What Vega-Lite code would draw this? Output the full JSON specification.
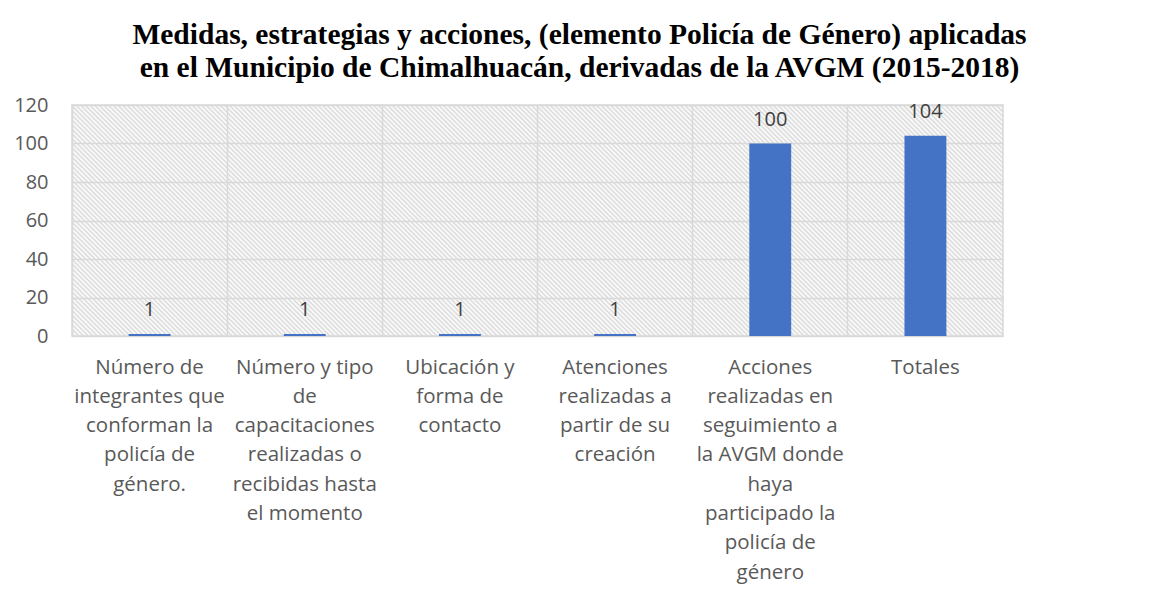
{
  "$schema": "https://vega.github.io/schema/vega-lite/v6.json",
  "autosize": {"type": "none"},
  "padding": {"left": 72, "top": 105, "right": 155, "bottom": 271},
  "width": 931,
  "height": 231,
  "background": "white",
  "title": {
    "text": ["Medidas, estrategias y acciones, (elemento Policía de Género) aplicadas", "en el Municipio de Chimalhuacán, derivadas de la AVGM (2015-2018)"],
    "font": "Liberation Serif",
    "fontSize": 29.5,
    "fontWeight": "bold",
    "color": "#000000",
    "anchor": "middle",
    "frame": "group",
    "dx": 42,
    "offset": 12,
    "lineHeight": 33
  },
  "data": {
    "values": [
      {"categoria": "Número de|integrantes que|conforman la|policía de|género.", "valor": 1},
      {"categoria": "Número y tipo|de|capacitaciones|realizadas o|recibidas hasta|el momento", "valor": 1},
      {"categoria": "Ubicación y|forma de|contacto", "valor": 1},
      {"categoria": "Atenciones|realizadas a|partir de su|creación", "valor": 1},
      {"categoria": "Acciones|realizadas en|seguimiento a|la AVGM donde|haya|participado la|policía de|género", "valor": 100},
      {"categoria": "Totales", "valor": 104}
    ]
  },
  "encoding": {
    "x": {
      "field": "categoria",
      "type": "nominal",
      "sort": null,
      "scale": {"paddingInner": 0, "paddingOuter": 0},
      "axis": {
        "title": null,
        "labelExpr": "split(datum.label, '|')",
        "labelAngle": 0,
        "labelLimit": 0,
        "labelFont": "Open Sans",
        "labelFontSize": 20.5,
        "labelColor": "#595959",
        "labelLineHeight": 29.3,
        "labelBaseline": "top",
        "labelPadding": 21,
        "ticks": false,
        "domain": false,
        "grid": true,
        "bandPosition": 0,
        "gridColor": "#d9d9d9",
        "gridWidth": 1.5
      }
    },
    "y": {
      "field": "valor",
      "type": "quantitative",
      "scale": {"domain": [0, 120], "nice": false},
      "axis": {
        "title": null,
        "values": [0, 20, 40, 60, 80, 100, 120],
        "labelFont": "Open Sans",
        "labelFontSize": 20,
        "labelColor": "#595959",
        "labelPadding": 24,
        "ticks": false,
        "domain": false,
        "gridColor": "#d9d9d9",
        "gridWidth": 1.5
      }
    }
  },
  "layer": [
    {
      "mark": {"type": "bar", "color": "#4472C4", "width": {"band": 0.27}}
    },
    {
      "mark": {"type": "text", "baseline": "alphabetic", "dy": -18, "font": "Open Sans", "fontSize": 20, "color": "#404040"},
      "encoding": {"text": {"field": "valor", "type": "quantitative"}}
    }
  ],
  "config": {
    "view": {
      "stroke": "#d9d9d9",
      "strokeWidth": 1.5,
      "fill": {
        "gradient": "linear",
        "x1": 0, "y1": 1, "x2": 1.1757, "y2": 0.7083,
        "stops": [
{"offset":0.000,"color":"#fff"},{"offset":0.002,"color":"#d9d9d9"},{"offset":0.004,"color":"#fff"},{"offset":0.006,"color":"#d9d9d9"},{"offset":0.008,"color":"#fff"},{"offset":0.010,"color":"#d9d9d9"},{"offset":0.012,"color":"#fff"},{"offset":0.014,"color":"#d9d9d9"},{"offset":0.016,"color":"#fff"},{"offset":0.018,"color":"#d9d9d9"},
{"offset":0.020,"color":"#fff"},{"offset":0.022,"color":"#d9d9d9"},{"offset":0.024,"color":"#fff"},{"offset":0.026,"color":"#d9d9d9"},{"offset":0.028,"color":"#fff"},{"offset":0.030,"color":"#d9d9d9"},{"offset":0.032,"color":"#fff"},{"offset":0.034,"color":"#d9d9d9"},{"offset":0.036,"color":"#fff"},{"offset":0.038,"color":"#d9d9d9"},
{"offset":0.040,"color":"#fff"},{"offset":0.042,"color":"#d9d9d9"},{"offset":0.044,"color":"#fff"},{"offset":0.046,"color":"#d9d9d9"},{"offset":0.048,"color":"#fff"},{"offset":0.050,"color":"#d9d9d9"},{"offset":0.052,"color":"#fff"},{"offset":0.054,"color":"#d9d9d9"},{"offset":0.056,"color":"#fff"},{"offset":0.058,"color":"#d9d9d9"},
{"offset":0.060,"color":"#fff"},{"offset":0.062,"color":"#d9d9d9"},{"offset":0.064,"color":"#fff"},{"offset":0.066,"color":"#d9d9d9"},{"offset":0.068,"color":"#fff"},{"offset":0.070,"color":"#d9d9d9"},{"offset":0.072,"color":"#fff"},{"offset":0.074,"color":"#d9d9d9"},{"offset":0.076,"color":"#fff"},{"offset":0.078,"color":"#d9d9d9"},
{"offset":0.080,"color":"#fff"},{"offset":0.082,"color":"#d9d9d9"},{"offset":0.084,"color":"#fff"},{"offset":0.086,"color":"#d9d9d9"},{"offset":0.088,"color":"#fff"},{"offset":0.090,"color":"#d9d9d9"},{"offset":0.092,"color":"#fff"},{"offset":0.094,"color":"#d9d9d9"},{"offset":0.096,"color":"#fff"},{"offset":0.098,"color":"#d9d9d9"},
{"offset":0.100,"color":"#fff"},{"offset":0.102,"color":"#d9d9d9"},{"offset":0.104,"color":"#fff"},{"offset":0.106,"color":"#d9d9d9"},{"offset":0.108,"color":"#fff"},{"offset":0.110,"color":"#d9d9d9"},{"offset":0.112,"color":"#fff"},{"offset":0.114,"color":"#d9d9d9"},{"offset":0.116,"color":"#fff"},{"offset":0.118,"color":"#d9d9d9"},
{"offset":0.120,"color":"#fff"},{"offset":0.122,"color":"#d9d9d9"},{"offset":0.124,"color":"#fff"},{"offset":0.126,"color":"#d9d9d9"},{"offset":0.128,"color":"#fff"},{"offset":0.130,"color":"#d9d9d9"},{"offset":0.132,"color":"#fff"},{"offset":0.134,"color":"#d9d9d9"},{"offset":0.136,"color":"#fff"},{"offset":0.138,"color":"#d9d9d9"},
{"offset":0.140,"color":"#fff"},{"offset":0.142,"color":"#d9d9d9"},{"offset":0.144,"color":"#fff"},{"offset":0.146,"color":"#d9d9d9"},{"offset":0.148,"color":"#fff"},{"offset":0.150,"color":"#d9d9d9"},{"offset":0.152,"color":"#fff"},{"offset":0.154,"color":"#d9d9d9"},{"offset":0.156,"color":"#fff"},{"offset":0.158,"color":"#d9d9d9"},
{"offset":0.160,"color":"#fff"},{"offset":0.162,"color":"#d9d9d9"},{"offset":0.164,"color":"#fff"},{"offset":0.166,"color":"#d9d9d9"},{"offset":0.168,"color":"#fff"},{"offset":0.170,"color":"#d9d9d9"},{"offset":0.172,"color":"#fff"},{"offset":0.174,"color":"#d9d9d9"},{"offset":0.176,"color":"#fff"},{"offset":0.178,"color":"#d9d9d9"},
{"offset":0.180,"color":"#fff"},{"offset":0.182,"color":"#d9d9d9"},{"offset":0.184,"color":"#fff"},{"offset":0.186,"color":"#d9d9d9"},{"offset":0.188,"color":"#fff"},{"offset":0.190,"color":"#d9d9d9"},{"offset":0.192,"color":"#fff"},{"offset":0.194,"color":"#d9d9d9"},{"offset":0.196,"color":"#fff"},{"offset":0.198,"color":"#d9d9d9"},
{"offset":0.200,"color":"#fff"},{"offset":0.202,"color":"#d9d9d9"},{"offset":0.204,"color":"#fff"},{"offset":0.206,"color":"#d9d9d9"},{"offset":0.208,"color":"#fff"},{"offset":0.210,"color":"#d9d9d9"},{"offset":0.212,"color":"#fff"},{"offset":0.214,"color":"#d9d9d9"},{"offset":0.216,"color":"#fff"},{"offset":0.218,"color":"#d9d9d9"},
{"offset":0.220,"color":"#fff"},{"offset":0.222,"color":"#d9d9d9"},{"offset":0.224,"color":"#fff"},{"offset":0.226,"color":"#d9d9d9"},{"offset":0.228,"color":"#fff"},{"offset":0.230,"color":"#d9d9d9"},{"offset":0.232,"color":"#fff"},{"offset":0.234,"color":"#d9d9d9"},{"offset":0.236,"color":"#fff"},{"offset":0.238,"color":"#d9d9d9"},
{"offset":0.240,"color":"#fff"},{"offset":0.242,"color":"#d9d9d9"},{"offset":0.244,"color":"#fff"},{"offset":0.246,"color":"#d9d9d9"},{"offset":0.248,"color":"#fff"},{"offset":0.250,"color":"#d9d9d9"},{"offset":0.252,"color":"#fff"},{"offset":0.254,"color":"#d9d9d9"},{"offset":0.256,"color":"#fff"},{"offset":0.258,"color":"#d9d9d9"},
{"offset":0.260,"color":"#fff"},{"offset":0.262,"color":"#d9d9d9"},{"offset":0.264,"color":"#fff"},{"offset":0.266,"color":"#d9d9d9"},{"offset":0.268,"color":"#fff"},{"offset":0.270,"color":"#d9d9d9"},{"offset":0.272,"color":"#fff"},{"offset":0.274,"color":"#d9d9d9"},{"offset":0.276,"color":"#fff"},{"offset":0.278,"color":"#d9d9d9"},
{"offset":0.280,"color":"#fff"},{"offset":0.282,"color":"#d9d9d9"},{"offset":0.284,"color":"#fff"},{"offset":0.286,"color":"#d9d9d9"},{"offset":0.288,"color":"#fff"},{"offset":0.290,"color":"#d9d9d9"},{"offset":0.292,"color":"#fff"},{"offset":0.294,"color":"#d9d9d9"},{"offset":0.296,"color":"#fff"},{"offset":0.298,"color":"#d9d9d9"},
{"offset":0.300,"color":"#fff"},{"offset":0.302,"color":"#d9d9d9"},{"offset":0.304,"color":"#fff"},{"offset":0.306,"color":"#d9d9d9"},{"offset":0.308,"color":"#fff"},{"offset":0.310,"color":"#d9d9d9"},{"offset":0.312,"color":"#fff"},{"offset":0.314,"color":"#d9d9d9"},{"offset":0.316,"color":"#fff"},{"offset":0.318,"color":"#d9d9d9"},
{"offset":0.320,"color":"#fff"},{"offset":0.322,"color":"#d9d9d9"},{"offset":0.324,"color":"#fff"},{"offset":0.326,"color":"#d9d9d9"},{"offset":0.328,"color":"#fff"},{"offset":0.330,"color":"#d9d9d9"},{"offset":0.332,"color":"#fff"},{"offset":0.334,"color":"#d9d9d9"},{"offset":0.336,"color":"#fff"},{"offset":0.338,"color":"#d9d9d9"},
{"offset":0.340,"color":"#fff"},{"offset":0.342,"color":"#d9d9d9"},{"offset":0.344,"color":"#fff"},{"offset":0.346,"color":"#d9d9d9"},{"offset":0.348,"color":"#fff"},{"offset":0.350,"color":"#d9d9d9"},{"offset":0.352,"color":"#fff"},{"offset":0.354,"color":"#d9d9d9"},{"offset":0.356,"color":"#fff"},{"offset":0.358,"color":"#d9d9d9"},
{"offset":0.360,"color":"#fff"},{"offset":0.362,"color":"#d9d9d9"},{"offset":0.364,"color":"#fff"},{"offset":0.366,"color":"#d9d9d9"},{"offset":0.368,"color":"#fff"},{"offset":0.370,"color":"#d9d9d9"},{"offset":0.372,"color":"#fff"},{"offset":0.374,"color":"#d9d9d9"},{"offset":0.376,"color":"#fff"},{"offset":0.378,"color":"#d9d9d9"},
{"offset":0.380,"color":"#fff"},{"offset":0.382,"color":"#d9d9d9"},{"offset":0.384,"color":"#fff"},{"offset":0.386,"color":"#d9d9d9"},{"offset":0.388,"color":"#fff"},{"offset":0.390,"color":"#d9d9d9"},{"offset":0.392,"color":"#fff"},{"offset":0.394,"color":"#d9d9d9"},{"offset":0.396,"color":"#fff"},{"offset":0.398,"color":"#d9d9d9"},
{"offset":0.400,"color":"#fff"},{"offset":0.402,"color":"#d9d9d9"},{"offset":0.404,"color":"#fff"},{"offset":0.406,"color":"#d9d9d9"},{"offset":0.408,"color":"#fff"},{"offset":0.410,"color":"#d9d9d9"},{"offset":0.412,"color":"#fff"},{"offset":0.414,"color":"#d9d9d9"},{"offset":0.416,"color":"#fff"},{"offset":0.418,"color":"#d9d9d9"},
{"offset":0.420,"color":"#fff"},{"offset":0.422,"color":"#d9d9d9"},{"offset":0.424,"color":"#fff"},{"offset":0.426,"color":"#d9d9d9"},{"offset":0.428,"color":"#fff"},{"offset":0.430,"color":"#d9d9d9"},{"offset":0.432,"color":"#fff"},{"offset":0.434,"color":"#d9d9d9"},{"offset":0.436,"color":"#fff"},{"offset":0.438,"color":"#d9d9d9"},
{"offset":0.440,"color":"#fff"},{"offset":0.442,"color":"#d9d9d9"},{"offset":0.444,"color":"#fff"},{"offset":0.446,"color":"#d9d9d9"},{"offset":0.448,"color":"#fff"},{"offset":0.450,"color":"#d9d9d9"},{"offset":0.452,"color":"#fff"},{"offset":0.454,"color":"#d9d9d9"},{"offset":0.456,"color":"#fff"},{"offset":0.458,"color":"#d9d9d9"},
{"offset":0.460,"color":"#fff"},{"offset":0.462,"color":"#d9d9d9"},{"offset":0.464,"color":"#fff"},{"offset":0.466,"color":"#d9d9d9"},{"offset":0.468,"color":"#fff"},{"offset":0.470,"color":"#d9d9d9"},{"offset":0.472,"color":"#fff"},{"offset":0.474,"color":"#d9d9d9"},{"offset":0.476,"color":"#fff"},{"offset":0.478,"color":"#d9d9d9"},
{"offset":0.480,"color":"#fff"},{"offset":0.482,"color":"#d9d9d9"},{"offset":0.484,"color":"#fff"},{"offset":0.486,"color":"#d9d9d9"},{"offset":0.488,"color":"#fff"},{"offset":0.490,"color":"#d9d9d9"},{"offset":0.492,"color":"#fff"},{"offset":0.494,"color":"#d9d9d9"},{"offset":0.496,"color":"#fff"},{"offset":0.498,"color":"#d9d9d9"},
{"offset":0.500,"color":"#fff"},{"offset":0.502,"color":"#d9d9d9"},{"offset":0.504,"color":"#fff"},{"offset":0.506,"color":"#d9d9d9"},{"offset":0.508,"color":"#fff"},{"offset":0.510,"color":"#d9d9d9"},{"offset":0.512,"color":"#fff"},{"offset":0.514,"color":"#d9d9d9"},{"offset":0.516,"color":"#fff"},{"offset":0.518,"color":"#d9d9d9"},
{"offset":0.520,"color":"#fff"},{"offset":0.522,"color":"#d9d9d9"},{"offset":0.524,"color":"#fff"},{"offset":0.526,"color":"#d9d9d9"},{"offset":0.528,"color":"#fff"},{"offset":0.530,"color":"#d9d9d9"},{"offset":0.532,"color":"#fff"},{"offset":0.534,"color":"#d9d9d9"},{"offset":0.536,"color":"#fff"},{"offset":0.538,"color":"#d9d9d9"},
{"offset":0.540,"color":"#fff"},{"offset":0.542,"color":"#d9d9d9"},{"offset":0.544,"color":"#fff"},{"offset":0.546,"color":"#d9d9d9"},{"offset":0.548,"color":"#fff"},{"offset":0.550,"color":"#d9d9d9"},{"offset":0.552,"color":"#fff"},{"offset":0.554,"color":"#d9d9d9"},{"offset":0.556,"color":"#fff"},{"offset":0.558,"color":"#d9d9d9"},
{"offset":0.560,"color":"#fff"},{"offset":0.562,"color":"#d9d9d9"},{"offset":0.564,"color":"#fff"},{"offset":0.566,"color":"#d9d9d9"},{"offset":0.568,"color":"#fff"},{"offset":0.570,"color":"#d9d9d9"},{"offset":0.572,"color":"#fff"},{"offset":0.574,"color":"#d9d9d9"},{"offset":0.576,"color":"#fff"},{"offset":0.578,"color":"#d9d9d9"},
{"offset":0.580,"color":"#fff"},{"offset":0.582,"color":"#d9d9d9"},{"offset":0.584,"color":"#fff"},{"offset":0.586,"color":"#d9d9d9"},{"offset":0.588,"color":"#fff"},{"offset":0.590,"color":"#d9d9d9"},{"offset":0.592,"color":"#fff"},{"offset":0.594,"color":"#d9d9d9"},{"offset":0.596,"color":"#fff"},{"offset":0.598,"color":"#d9d9d9"},
{"offset":0.600,"color":"#fff"},{"offset":0.602,"color":"#d9d9d9"},{"offset":0.604,"color":"#fff"},{"offset":0.606,"color":"#d9d9d9"},{"offset":0.608,"color":"#fff"},{"offset":0.610,"color":"#d9d9d9"},{"offset":0.612,"color":"#fff"},{"offset":0.614,"color":"#d9d9d9"},{"offset":0.616,"color":"#fff"},{"offset":0.618,"color":"#d9d9d9"},
{"offset":0.620,"color":"#fff"},{"offset":0.622,"color":"#d9d9d9"},{"offset":0.624,"color":"#fff"},{"offset":0.626,"color":"#d9d9d9"},{"offset":0.628,"color":"#fff"},{"offset":0.630,"color":"#d9d9d9"},{"offset":0.632,"color":"#fff"},{"offset":0.634,"color":"#d9d9d9"},{"offset":0.636,"color":"#fff"},{"offset":0.638,"color":"#d9d9d9"},
{"offset":0.640,"color":"#fff"},{"offset":0.642,"color":"#d9d9d9"},{"offset":0.644,"color":"#fff"},{"offset":0.646,"color":"#d9d9d9"},{"offset":0.648,"color":"#fff"},{"offset":0.650,"color":"#d9d9d9"},{"offset":0.652,"color":"#fff"},{"offset":0.654,"color":"#d9d9d9"},{"offset":0.656,"color":"#fff"},{"offset":0.658,"color":"#d9d9d9"},
{"offset":0.660,"color":"#fff"},{"offset":0.662,"color":"#d9d9d9"},{"offset":0.664,"color":"#fff"},{"offset":0.666,"color":"#d9d9d9"},{"offset":0.668,"color":"#fff"},{"offset":0.670,"color":"#d9d9d9"},{"offset":0.672,"color":"#fff"},{"offset":0.674,"color":"#d9d9d9"},{"offset":0.676,"color":"#fff"},{"offset":0.678,"color":"#d9d9d9"},
{"offset":0.680,"color":"#fff"},{"offset":0.682,"color":"#d9d9d9"},{"offset":0.684,"color":"#fff"},{"offset":0.686,"color":"#d9d9d9"},{"offset":0.688,"color":"#fff"},{"offset":0.690,"color":"#d9d9d9"},{"offset":0.692,"color":"#fff"},{"offset":0.694,"color":"#d9d9d9"},{"offset":0.696,"color":"#fff"},{"offset":0.698,"color":"#d9d9d9"},
{"offset":0.700,"color":"#fff"},{"offset":0.702,"color":"#d9d9d9"},{"offset":0.704,"color":"#fff"},{"offset":0.706,"color":"#d9d9d9"},{"offset":0.708,"color":"#fff"},{"offset":0.710,"color":"#d9d9d9"},{"offset":0.712,"color":"#fff"},{"offset":0.714,"color":"#d9d9d9"},{"offset":0.716,"color":"#fff"},{"offset":0.718,"color":"#d9d9d9"},
{"offset":0.720,"color":"#fff"},{"offset":0.722,"color":"#d9d9d9"},{"offset":0.724,"color":"#fff"},{"offset":0.726,"color":"#d9d9d9"},{"offset":0.728,"color":"#fff"},{"offset":0.730,"color":"#d9d9d9"},{"offset":0.732,"color":"#fff"},{"offset":0.734,"color":"#d9d9d9"},{"offset":0.736,"color":"#fff"},{"offset":0.738,"color":"#d9d9d9"},
{"offset":0.740,"color":"#fff"},{"offset":0.742,"color":"#d9d9d9"},{"offset":0.744,"color":"#fff"},{"offset":0.746,"color":"#d9d9d9"},{"offset":0.748,"color":"#fff"},{"offset":0.750,"color":"#d9d9d9"},{"offset":0.752,"color":"#fff"},{"offset":0.754,"color":"#d9d9d9"},{"offset":0.756,"color":"#fff"},{"offset":0.758,"color":"#d9d9d9"},
{"offset":0.760,"color":"#fff"},{"offset":0.762,"color":"#d9d9d9"},{"offset":0.764,"color":"#fff"},{"offset":0.766,"color":"#d9d9d9"},{"offset":0.768,"color":"#fff"},{"offset":0.770,"color":"#d9d9d9"},{"offset":0.772,"color":"#fff"},{"offset":0.774,"color":"#d9d9d9"},{"offset":0.776,"color":"#fff"},{"offset":0.778,"color":"#d9d9d9"},
{"offset":0.780,"color":"#fff"},{"offset":0.782,"color":"#d9d9d9"},{"offset":0.784,"color":"#fff"},{"offset":0.786,"color":"#d9d9d9"},{"offset":0.788,"color":"#fff"},{"offset":0.790,"color":"#d9d9d9"},{"offset":0.792,"color":"#fff"},{"offset":0.794,"color":"#d9d9d9"},{"offset":0.796,"color":"#fff"},{"offset":0.798,"color":"#d9d9d9"},
{"offset":0.800,"color":"#fff"},{"offset":0.802,"color":"#d9d9d9"},{"offset":0.804,"color":"#fff"},{"offset":0.806,"color":"#d9d9d9"},{"offset":0.808,"color":"#fff"},{"offset":0.810,"color":"#d9d9d9"},{"offset":0.812,"color":"#fff"},{"offset":0.814,"color":"#d9d9d9"},{"offset":0.816,"color":"#fff"},{"offset":0.818,"color":"#d9d9d9"},
{"offset":0.820,"color":"#fff"},{"offset":0.822,"color":"#d9d9d9"},{"offset":0.824,"color":"#fff"},{"offset":0.826,"color":"#d9d9d9"},{"offset":0.828,"color":"#fff"},{"offset":0.830,"color":"#d9d9d9"},{"offset":0.832,"color":"#fff"},{"offset":0.834,"color":"#d9d9d9"},{"offset":0.836,"color":"#fff"},{"offset":0.838,"color":"#d9d9d9"},
{"offset":0.840,"color":"#fff"},{"offset":0.842,"color":"#d9d9d9"},{"offset":0.844,"color":"#fff"},{"offset":0.846,"color":"#d9d9d9"},{"offset":0.848,"color":"#fff"},{"offset":0.850,"color":"#d9d9d9"},{"offset":0.852,"color":"#fff"},{"offset":0.854,"color":"#d9d9d9"},{"offset":0.856,"color":"#fff"},{"offset":0.858,"color":"#d9d9d9"},
{"offset":0.860,"color":"#fff"},{"offset":0.862,"color":"#d9d9d9"},{"offset":0.864,"color":"#fff"},{"offset":0.866,"color":"#d9d9d9"},{"offset":0.868,"color":"#fff"},{"offset":0.870,"color":"#d9d9d9"},{"offset":0.872,"color":"#fff"},{"offset":0.874,"color":"#d9d9d9"},{"offset":0.876,"color":"#fff"},{"offset":0.878,"color":"#d9d9d9"},
{"offset":0.880,"color":"#fff"},{"offset":0.882,"color":"#d9d9d9"},{"offset":0.884,"color":"#fff"},{"offset":0.886,"color":"#d9d9d9"},{"offset":0.888,"color":"#fff"},{"offset":0.890,"color":"#d9d9d9"},{"offset":0.892,"color":"#fff"},{"offset":0.894,"color":"#d9d9d9"},{"offset":0.896,"color":"#fff"},{"offset":0.898,"color":"#d9d9d9"},
{"offset":0.900,"color":"#fff"},{"offset":0.902,"color":"#d9d9d9"},{"offset":0.904,"color":"#fff"},{"offset":0.906,"color":"#d9d9d9"},{"offset":0.908,"color":"#fff"},{"offset":0.910,"color":"#d9d9d9"},{"offset":0.912,"color":"#fff"},{"offset":0.914,"color":"#d9d9d9"},{"offset":0.916,"color":"#fff"},{"offset":0.918,"color":"#d9d9d9"},
{"offset":0.920,"color":"#fff"},{"offset":0.922,"color":"#d9d9d9"},{"offset":0.924,"color":"#fff"},{"offset":0.926,"color":"#d9d9d9"},{"offset":0.928,"color":"#fff"},{"offset":0.930,"color":"#d9d9d9"},{"offset":0.932,"color":"#fff"},{"offset":0.934,"color":"#d9d9d9"},{"offset":0.936,"color":"#fff"},{"offset":0.938,"color":"#d9d9d9"},
{"offset":0.940,"color":"#fff"},{"offset":0.942,"color":"#d9d9d9"},{"offset":0.944,"color":"#fff"},{"offset":0.946,"color":"#d9d9d9"},{"offset":0.948,"color":"#fff"},{"offset":0.950,"color":"#d9d9d9"},{"offset":0.952,"color":"#fff"},{"offset":0.954,"color":"#d9d9d9"},{"offset":0.956,"color":"#fff"},{"offset":0.958,"color":"#d9d9d9"},
{"offset":0.960,"color":"#fff"},{"offset":0.962,"color":"#d9d9d9"},{"offset":0.964,"color":"#fff"},{"offset":0.966,"color":"#d9d9d9"},{"offset":0.968,"color":"#fff"},{"offset":0.970,"color":"#d9d9d9"},{"offset":0.972,"color":"#fff"},{"offset":0.974,"color":"#d9d9d9"},{"offset":0.976,"color":"#fff"},{"offset":0.978,"color":"#d9d9d9"},
{"offset":0.980,"color":"#fff"},{"offset":0.982,"color":"#d9d9d9"},{"offset":0.984,"color":"#fff"},{"offset":0.986,"color":"#d9d9d9"},{"offset":0.988,"color":"#fff"},{"offset":0.990,"color":"#d9d9d9"},{"offset":0.992,"color":"#fff"},{"offset":0.994,"color":"#d9d9d9"},{"offset":0.996,"color":"#fff"},{"offset":0.998,"color":"#d9d9d9"},
{"offset":1.000,"color":"#fff"}
        ]
      }
    }
  }
}
